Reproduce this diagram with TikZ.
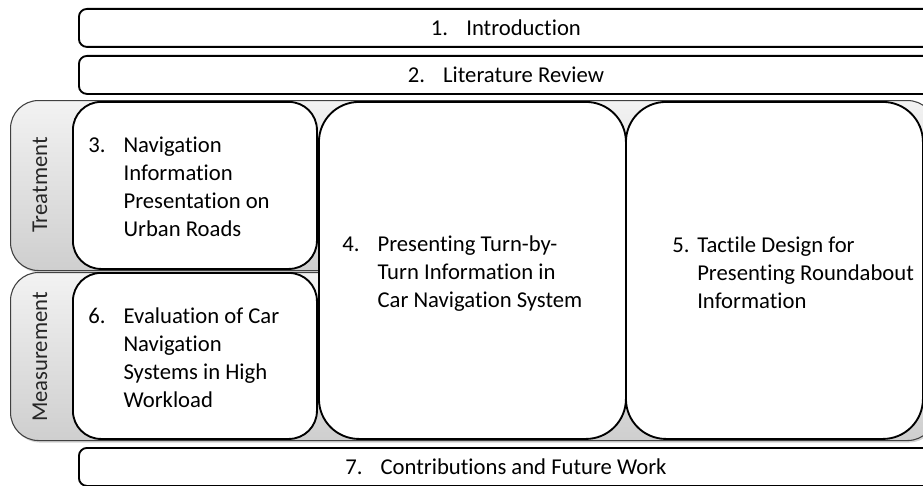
\documentclass[tikz,border=0pt]{standalone}
\usepackage{fontspec}
\setmainfont[Ligatures={NoCommon,NoContextual}]{Carlito}
\usetikzlibrary{positioning}
\usetikzlibrary{shadows}

\newcommand{\chapno}[2][26.5pt]{\makebox[#1][l]{#2.}}
\newcommand{\chind}[1][26.5pt]{\hspace*{#1}}

\begin{document}
\begin{tikzpicture}[x=0.75pt,y=-0.75pt,
  bar/.style={draw,line width=1.4pt,rounded corners=6pt,fill=white,anchor=north west,
    minimum width=640.5pt,minimum height=28.5pt,inner sep=0pt,font=\fontsize{17}{21}\selectfont},
  panel/.style={draw=black!75,line width=0.8pt,rounded corners=21pt,top color=gray!10,bottom color=gray!38,
    anchor=north west,minimum width=693.75pt,inner sep=0pt,
    drop shadow={shadow xshift=1pt,shadow yshift=-1.5pt,opacity=0.35}},
  chap/.style={draw,line width=1.4pt,fill=white,anchor=north west,inner sep=0pt},
  txt/.style={align=left,inner sep=0pt,font=\fontsize{17}{21}\selectfont},
  tab/.style={rotate=90,inner sep=0pt,text=black!85,font=\fontsize{17}{21}\selectfont}]
\clip (0,0) rectangle (923,485);
% top and bottom bars
\node[bar] (intro) at (78,8) {\chapno{1}Introduction};
\node[bar] (litrev) at (78,55) {\chapno{2}Literature Review};
\node[bar] (contrib) at (78,447) {\chapno{7}Contributions and Future Work};
% grey panels
\node[panel,minimum height=127.5pt] (treat) at (10,100) {};
\node[panel,minimum height=126pt] (meas) at (10,272) {};
\node[tab] (treatlbl) at (40,185) {Treatment};
\node[tab] (measlbl) at (40,357) {Measurement};
% chapter boxes
\node[chap,rounded corners=21pt,minimum width=183pt,minimum height=125.25pt] (navinfo) at (72,101) {};
\node[chap,rounded corners=21pt,minimum width=183pt,minimum height=124.5pt] (evalnav) at (72,272) {};
\node[chap,rounded corners=30pt,minimum width=230.25pt,minimum height=252.75pt] (turnbyturn) at (318,101) {};
\node[chap,rounded corners=30pt,minimum width=222.75pt,minimum height=252.75pt] (tactile) at (625,101) {};
\node[txt,right=12pt of navinfo.west,yshift=-1pt] (navinfotxt)
  {\chapno{3}Navigation\\ \chind Information\\ \chind Presentation on\\ \chind Urban Roads};
\node[txt,right=12pt of evalnav.west,yshift=-1pt] (evalnavtxt)
  {\chapno{6}Evaluation of Car\\ \chind Navigation\\ \chind Systems in High\\ \chind Workload};
\node[txt,right=18pt of turnbyturn.west,yshift=-2pt] (turnbyturntxt)
  {\chapno{4}Presenting Turn-by-\\ \chind Turn Information in\\ \chind Car Navigation System};
\node[txt,right=35.25pt of tactile.west,yshift=-2pt] (tactiletxt)
  {\chapno[18.75pt]{5}Tactile Design for\\ \chind[18.75pt]Presenting Roundabout\\ \chind[18.75pt]Information};
\end{tikzpicture}
\end{document}
